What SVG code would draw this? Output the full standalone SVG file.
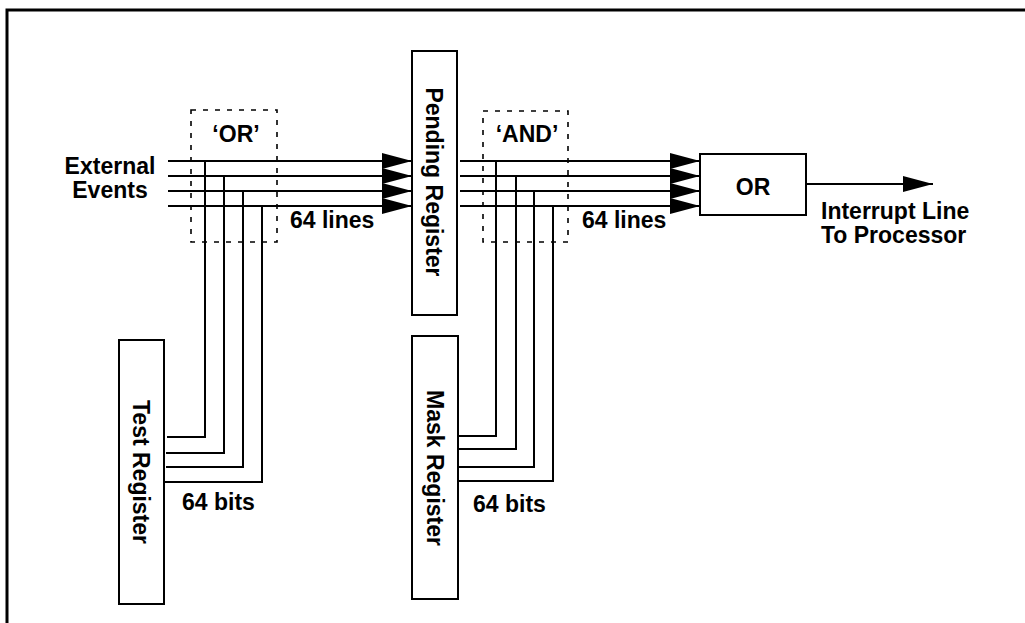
<svg xmlns="http://www.w3.org/2000/svg" width="1025" height="623" viewBox="0 0 1025 623">
<style>
.t{font-family:"Liberation Sans",Arial,sans-serif;font-weight:bold;font-size:23px;fill:#000}
.m{text-anchor:middle}
.box{fill:#fff;stroke:#000;stroke-width:2}
.dash{fill:none;stroke:#000;stroke-width:1.6;stroke-dasharray:5,7}
.w{fill:none;stroke:#000;stroke-width:2}
</style>
<defs>
<marker id="ah" markerUnits="userSpaceOnUse" markerWidth="32" markerHeight="18" refX="30" refY="8" orient="auto">
<path d="M0,0 L30,8 L0,16 Z" fill="#000"/>
</marker>
</defs>
<rect width="1025" height="623" fill="#fff"/>
<path d="M7,623 V10 H1025" fill="none" stroke="#000" stroke-width="3"/>

<g id="connectors">
<line class="w" x1="168" y1="161" x2="412" y2="161" marker-end="url(#ah)"/>
<line class="w" x1="168" y1="176" x2="412" y2="176" marker-end="url(#ah)"/>
<line class="w" x1="168" y1="191" x2="412" y2="191" marker-end="url(#ah)"/>
<line class="w" x1="168" y1="206" x2="412" y2="206" marker-end="url(#ah)"/>
<path class="w" d="M167,437 H205 V161"/>
<path class="w" d="M166,453 H224 V176"/>
<path class="w" d="M166,467 H243 V191"/>
<path class="w" d="M164,482 H262 V206"/>
<line class="w" x1="460" y1="161" x2="700" y2="161" marker-end="url(#ah)"/>
<line class="w" x1="460" y1="176" x2="700" y2="176" marker-end="url(#ah)"/>
<line class="w" x1="460" y1="191" x2="700" y2="191" marker-end="url(#ah)"/>
<line class="w" x1="460" y1="206" x2="700" y2="206" marker-end="url(#ah)"/>
<path class="w" d="M459,436 H496 V161"/>
<path class="w" d="M459,449 H516 V176"/>
<path class="w" d="M459,467 H534 V191"/>
<path class="w" d="M456,481 H553 V206"/>
<line class="w" x1="806" y1="184" x2="933" y2="184" marker-end="url(#ah)"/>
</g>

<g id="external-events">
<text class="t m" x="110" y="174">External</text>
<text class="t m" x="110" y="198">Events</text>
</g>

<g id="or-stage">
<rect class="dash" x="191" y="110" width="86" height="132"/>
<text class="t m" x="236" y="142">‘OR’</text>
<text class="t" x="290" y="228">64 lines</text>
</g>

<g id="pending-register">
<rect class="box" x="412" y="51" width="45" height="264"/>
<text class="t m" transform="translate(434,182) rotate(90)" x="0" y="8">Pending Register</text>
</g>

<g id="and-stage">
<rect class="dash" x="483" y="111" width="85" height="131"/>
<text class="t m" x="527" y="142">‘AND’</text>
<text class="t" x="582" y="228">64 lines</text>
</g>

<g id="or-gate">
<rect class="box" x="700" y="154" width="106" height="61"/>
<text class="t m" x="753" y="195">OR</text>
</g>

<g id="interrupt-line">
<text class="t" x="821" y="219">Interrupt Line</text>
<text class="t" x="821" y="243">To Processor</text>
</g>

<g id="test-register">
<rect class="box" x="119" y="340" width="45" height="264"/>
<text class="t m" transform="translate(141,472) rotate(90)" x="0" y="8">Test Register</text>
<text class="t" x="182" y="510">64 bits</text>
</g>

<g id="mask-register">
<rect class="box" x="412" y="336" width="46" height="263"/>
<text class="t m" transform="translate(435,468) rotate(90)" x="0" y="8">Mask Register</text>
<text class="t" x="473" y="512">64 bits</text>
</g>
</svg>
